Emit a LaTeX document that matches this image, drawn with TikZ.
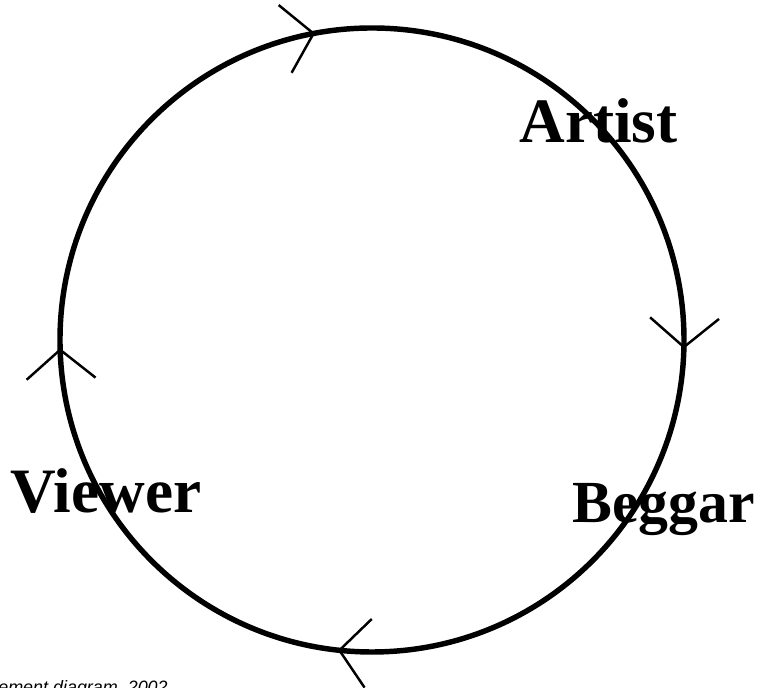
\documentclass[tikz,border=0pt]{standalone}
\usepackage{fontspec}
\setmainfont{Liberation Serif}
\setsansfont{Liberation Sans}
\usepackage{tikz}
\usetikzlibrary{positioning}
\definecolor{inkblack}{HTML}{000000}
\tikzset{
  ring/.style={draw=inkblack,line width=3.1pt},
  chev/.style={draw=inkblack,line width=1.4pt},
  role/.style={anchor=base west,inner sep=0pt,text=inkblack,
               font=\rmfamily\bfseries\fontsize{36}{40}\selectfont},
  caption/.style={anchor=base west,inner sep=0pt,text=inkblack,
                  font=\sffamily\itshape\fontsize{10.2}{12}\selectfont},
}
\begin{document}
\begin{tikzpicture}[x=0.02cm,y=0.02cm]
  \useasboundingbox (0,0) rectangle (767,688);
  \coordinate (c) at (372,348);
  \node[role] (artist) at (519,545) {Artist};
  \node[role,font=\rmfamily\bfseries\fontsize{34}{40}\selectfont] (beggar) at (572,165) {Beggar};
  \node[role] (viewer) at (10,175)  {Viewer};
  \draw[ring] (c) circle (312);
  % open heads, clockwise
  \foreach \a in {100.8,-1.3,264,181.8}
    \draw[chev] (c) ++(\a:312) coordinate (tip) ++(\a+140:45) -- (tip) -- ++(\a+40:45);
  \node[caption] (note) at (-2,-6) {ement diagram, 2002};
\end{tikzpicture}
\end{document}
